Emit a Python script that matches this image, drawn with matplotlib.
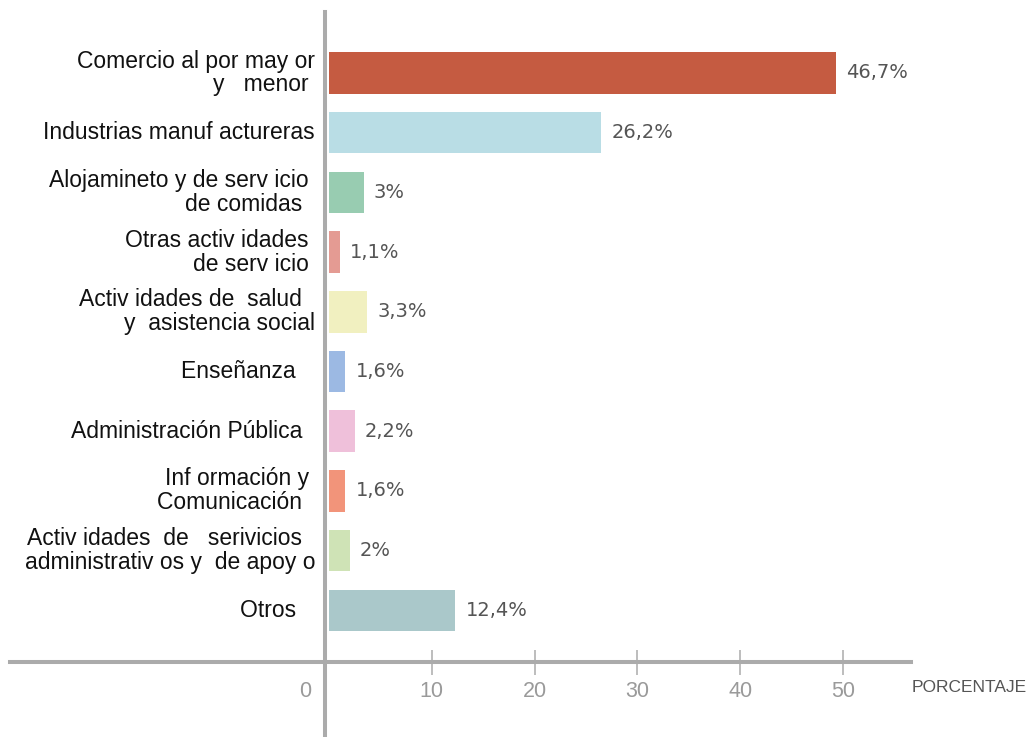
import matplotlib
matplotlib.use("Agg")
import matplotlib.pyplot as plt
import matplotlib.transforms as mtransforms

# ---- data ----
categories = [
    "Comercio al por may or\ny   menor ",
    "Industrias manuf actureras",
    "Alojamineto y de serv icio \nde comidas  ",
    "Otras activ idades \nde serv icio ",
    "Activ idades de  salud  \ny  asistencia social",
    "Enseñanza   ",
    "Administración Pública  ",
    "Inf ormación y \nComunicación  ",
    "Activ idades  de   serivicios  \nadministrativ os y  de apoy o",
    "Otros   ",
]
# bar lengths as drawn in the reference
values = [49.3, 26.5, 3.4, 1.1, 3.7, 1.6, 2.5, 1.6, 2.0, 12.3]
# value labels as printed in the reference
value_labels = ["46,7%", "26,2%", "3%", "1,1%", "3,3%", "1,6%", "2,2%", "1,6%", "2%", "12,4%"]
colors = ["#C55B41", "#B9DDE5", "#98CCB1", "#E49B93", "#F1F0C0",
          "#9CB9E3", "#EFC0DA", "#F2947A", "#CFE3B6", "#AAC8CA"]
xticks = [0, 10, 20, 30, 40, 50]
xlabel = "PORCENTAJE"

W, H = 1034, 737
fig = plt.figure(figsize=(W / 100, H / 100), dpi=100)

# axes geometry in pixels
left_px, right_px, top_px, bottom_px = 10, 911, 12, 662
ax = fig.add_axes([left_px / W, 1 - bottom_px / H,
                   (right_px - left_px) / W, (bottom_px - top_px) / H])

zero_px, px_per_unit = 329, 10.28
ax.set_xlim((left_px - zero_px) / px_per_unit, (right_px - zero_px) / px_per_unit)
first_px, step_px = 73, 59.7
ax.set_ylim((bottom_px - first_px) / step_px, (top_px - first_px) / step_px)

ypos = list(range(len(categories)))
ax.barh(ypos, values, height=0.695, color=colors, zorder=2)

grey = "#ababab"
for s in ["top", "right", "left"]:
    ax.spines[s].set_visible(False)
ax.spines["bottom"].set_color(grey)
ax.spines["bottom"].set_linewidth(2.9)

# vertical axis line extending below the horizontal axis
axis_x = (325 - zero_px) / px_per_unit
ax.axvline(axis_x, ymin=-(H - bottom_px) / (bottom_px - top_px), ymax=1,
           color=grey, lw=2.9, clip_on=False, zorder=3)

ax.set_yticks([])
ax.set_xticks(xticks)
ax.set_xticklabels([str(t) for t in xticks], fontfamily="Liberation Sans")
ax.tick_params(axis="x", direction="inout", length=18, width=1.1, color=grey,
               labelsize=15.5, labelcolor="#9a9a9a", pad=5)
t0 = ax.xaxis.get_major_ticks()[0]
t0.tick1line.set_visible(False)
t0.label1.set_transform(t0.label1.get_transform() +
                        mtransforms.Affine2D().translate(-24, 0))

# category labels
for i, lab in enumerate(categories):
    ax.annotate(lab, xy=(0, i), xycoords="data", xytext=(-14, 0),
                textcoords="offset pixels", ha="right", va="center",
                multialignment="right", fontsize=16.5,
                fontfamily="Liberation Sans", color="#111111",
                linespacing=1.05, annotation_clip=False)

# value labels
for i, (v, lab) in enumerate(zip(values, value_labels)):
    ax.annotate(lab, xy=(v, i), xycoords="data", xytext=(10, 0),
                textcoords="offset pixels", ha="left", va="center",
                fontsize=14, fontfamily="DejaVu Sans", color="#555555")

fig.text(912 / W, 1 - 688 / H, xlabel, fontsize=12.5, fontfamily="Liberation Sans",
         color="#555555", ha="left", va="center")

fig.savefig("out.png", dpi=100)
